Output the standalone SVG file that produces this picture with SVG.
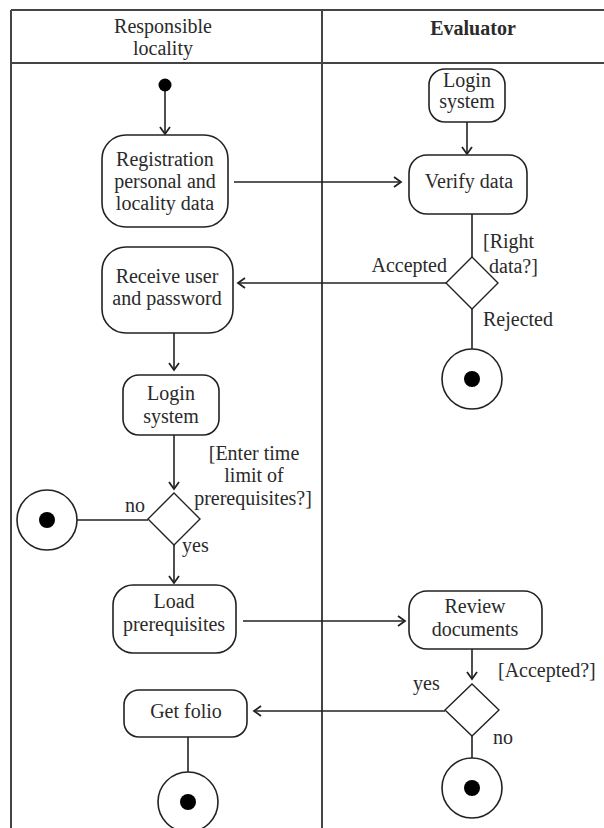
<svg xmlns="http://www.w3.org/2000/svg" width="604" height="828" viewBox="0 0 604 828">
<style>
text{font-family:"Liberation Serif","Times New Roman",serif;font-size:20px;fill:#2a2a2a;}
.c{text-anchor:middle;}
.e{text-anchor:end;}
.b{font-weight:bold;}
.frame{stroke:#444;stroke-width:2;fill:none;}
.box{fill:#fff;stroke:#222;stroke-width:1.6;}
.ln{stroke:#222;stroke-width:1.6;fill:none;}
.arr{stroke:#222;stroke-width:1.6;fill:none;marker-end:url(#ah);}
.dia{fill:#fff;stroke:#222;stroke-width:1.4;}
.fin{fill:#fff;stroke:#222;stroke-width:1.6;}
.dot{fill:#000;}
</style>
<defs>
<marker id="ah" markerWidth="12" markerHeight="12" refX="9" refY="6" orient="auto" markerUnits="userSpaceOnUse">
<path d="M2,1 L9,6 L2,11" fill="none" stroke="#222" stroke-width="1.8"/>
</marker>
</defs>
<rect width="604" height="828" fill="#fff"/>
<g id="swimlanes">
<line class="frame" x1="11" y1="10" x2="604" y2="10"/>
<line class="frame" x1="11" y1="63" x2="604" y2="63"/>
<line class="frame" x1="11" y1="10" x2="11" y2="828"/>
<line class="frame" x1="322" y1="10" x2="322" y2="828"/>
<text class="c" x="163" y="33">Responsible</text>
<text class="c" x="163" y="55">locality</text>
<text class="c b" x="473" y="35">Evaluator</text>
</g>
<g id="connectors">
<line class="arr" x1="165" y1="90" x2="165" y2="134"/>
<line class="arr" x1="234" y1="182" x2="401" y2="182"/>
<line class="arr" x1="467" y1="122" x2="467" y2="154"/>
<line class="ln" x1="472" y1="214" x2="472" y2="257"/>
<line class="arr" x1="446" y1="283" x2="238" y2="283"/>
<line class="ln" x1="472" y1="309" x2="472" y2="349"/>
<line class="arr" x1="174" y1="333" x2="174" y2="370"/>
<line class="arr" x1="174" y1="435" x2="174" y2="489"/>
<line class="ln" x1="77" y1="520" x2="148" y2="520"/>
<line class="arr" x1="174" y1="545" x2="174" y2="583"/>
<line class="arr" x1="243" y1="621" x2="405" y2="621"/>
<line class="arr" x1="472" y1="649" x2="472" y2="679"/>
<line class="arr" x1="445" y1="711" x2="254" y2="711"/>
<line class="ln" x1="188" y1="737" x2="188" y2="772"/>
<line class="ln" x1="472" y1="736" x2="472" y2="758"/>
<text x="483" y="248">[Right</text>
<text x="489" y="273">data?]</text>
<text class="e" x="447" y="272">Accepted</text>
<text x="483" y="326">Rejected</text>
<text class="c" x="254" y="460">[Enter time</text>
<text class="c" x="254" y="482">limit of</text>
<text class="c" x="253" y="505">prerequisites?]</text>
<text x="125" y="512">no</text>
<text x="182" y="552">yes</text>
<text x="498" y="677">[Accepted?]</text>
<text x="413" y="690">yes</text>
<text x="493" y="744">no</text>
</g>
<g id="start"><circle class="dot" cx="165" cy="85" r="6.5"/></g>
<g id="registration">
<rect class="box" x="102" y="135" width="126" height="92" rx="24"/>
<text class="c" x="165" y="166">Registration</text>
<text class="c" x="165" y="188">personal and</text>
<text class="c" x="165" y="210">locality data</text>
</g>
<g id="login-evaluator">
<rect class="box" x="429" y="69" width="76" height="53" rx="16"/>
<text class="c" x="467" y="87">Login</text>
<text class="c" x="467" y="108">system</text>
</g>
<g id="verify">
<rect class="box" x="409" y="155" width="118" height="59" rx="18"/>
<text class="c" x="469" y="188">Verify data</text>
</g>
<g id="decision-right-data"><polygon class="dia" points="472,257 498,283 472,309 446,283"/></g>
<g id="end-rejected"><circle class="fin" cx="472" cy="379" r="30"/><circle class="dot" cx="472" cy="379" r="8"/></g>
<g id="receive">
<rect class="box" x="102" y="247" width="131" height="86" rx="24"/>
<text class="c" x="167" y="283">Receive user</text>
<text class="c" x="167" y="305">and password</text>
</g>
<g id="login-locality">
<rect class="box" x="123" y="375" width="96" height="60" rx="16"/>
<text class="c" x="171" y="400">Login</text>
<text class="c" x="171" y="423">system</text>
</g>
<g id="decision-time-limit"><polygon class="dia" points="174,493 200,519 174,545 148,519"/></g>
<g id="end-no-time"><circle class="fin" cx="47" cy="520" r="30"/><circle class="dot" cx="47" cy="520" r="8"/></g>
<g id="load">
<rect class="box" x="113" y="585" width="123" height="68" rx="20"/>
<text class="c" x="174" y="608">Load</text>
<text class="c" x="174" y="631">prerequisites</text>
</g>
<g id="review">
<rect class="box" x="409" y="591" width="133" height="58" rx="18"/>
<text class="c" x="475" y="613">Review</text>
<text class="c" x="475" y="636">documents</text>
</g>
<g id="decision-accepted"><polygon class="dia" points="472,684 499,710 472,736 445,710"/></g>
<g id="end-rejected-docs"><circle class="fin" cx="472" cy="788" r="30"/><circle class="dot" cx="472" cy="788" r="8"/></g>
<g id="get-folio">
<rect class="box" x="124" y="690" width="123" height="47" rx="15"/>
<text class="c" x="186" y="718">Get folio</text>
</g>
<g id="end-folio"><circle class="fin" cx="188" cy="802" r="30"/><circle class="dot" cx="188" cy="802" r="8"/></g>
</svg>
